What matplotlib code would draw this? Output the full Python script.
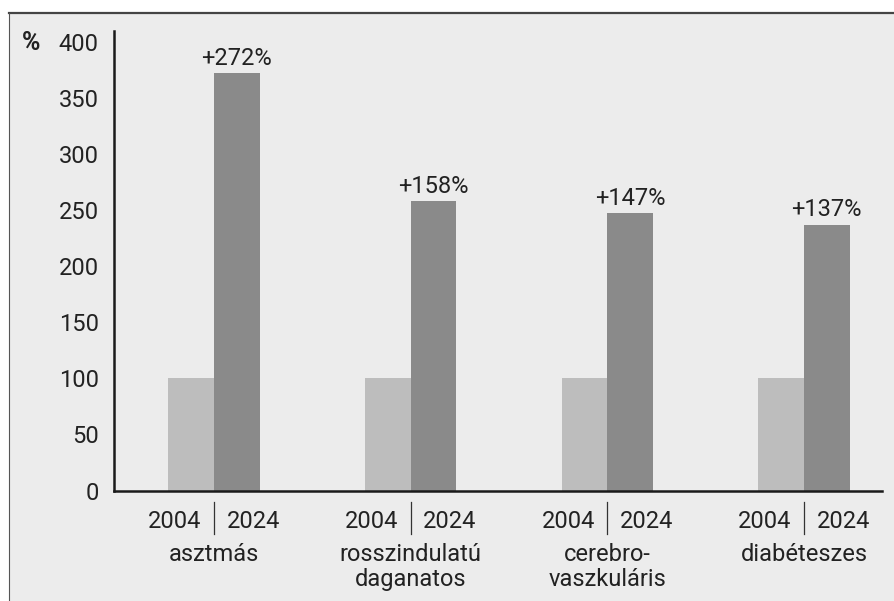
import matplotlib
matplotlib.use("Agg")
import matplotlib.pyplot as plt
from matplotlib.patches import Rectangle
from matplotlib.lines import Line2D
import matplotlib.transforms as mtransforms

categories = ["asztmás", "rosszindulatú\ndaganatos", "cerebro-\nvaszkuláris", "diabéteszes"]
years = ["2004", "2024"]
values_2004 = [100, 100, 100, 100]
values_2024 = [372, 258, 247, 237]
change_labels = ["+272%", "+158%", "+147%", "+137%"]
yticks = [0, 50, 100, 150, 200, 250, 300, 350, 400]

plt.rcParams['font.family'] = ['Roboto', 'DejaVu Sans']
FS = 17
TXT = '#222222'
BG = '#ececec'

W, H = 894, 601
fig = plt.figure(figsize=(W / 100, H / 100), dpi=100)
fig.patch.set_facecolor('white')

# background panel with frame
fig.patches.append(Rectangle((9 / W, 0), 1 - 9 / W, 1 - 13 / H, transform=fig.transFigure,
                             facecolor=BG, edgecolor='none', zorder=-10))
fig.lines.append(Line2D([9 / W, 1], [1 - 13 / H, 1 - 13 / H], transform=fig.transFigure,
                        color='#444444', linewidth=1.6))
fig.lines.append(Line2D([9 / W, 9 / W], [0, 1 - 13 / H], transform=fig.transFigure,
                        color='#555555', linewidth=0.8))

AX_H = 490.5 - 31
ax = fig.add_axes([114 / W, (H - 490.5) / H, (882 - 114) / W, AX_H / H])
ax.set_facecolor(BG)

x = list(range(len(categories)))
bw = 0.232
ax.bar([i - bw / 2 for i in x], values_2004, width=bw, color='#bdbdbd', zorder=2)
ax.bar([i + bw / 2 for i in x], values_2024, width=bw, color='#8a8a8a', zorder=2)

for i, (v, lab) in enumerate(zip(values_2024, change_labels)):
    ax.annotate(lab, (i + bw / 2, v), xytext=(0, 2.5), textcoords='offset points',
                ha='center', va='bottom', fontsize=FS, color=TXT)

ax.set_xlim(-0.508, 3.397)
ax.set_ylim(0, 409.5)
ax.set_yticks(yticks)
ax.set_yticklabels([str(t) for t in yticks], fontsize=FS, color=TXT)
ax.tick_params(axis='y', length=0, pad=11)
ax.set_xticks([])

for s in ['top', 'right']:
    ax.spines[s].set_visible(False)
for s in ['left', 'bottom']:
    ax.spines[s].set_linewidth(1.8)
    ax.spines[s].set_color('#1a1a1a')

trans = mtransforms.blended_transform_factory(ax.transData, ax.transAxes)
for i, cat in enumerate(categories):
    ax.annotate(years[0], (i, 0), xycoords=trans, xytext=(-9, -22.5), textcoords='offset points',
                ha='right', va='center', fontsize=FS, color=TXT)
    ax.annotate(years[1], (i, 0), xycoords=trans, xytext=(9, -22.5), textcoords='offset points',
                ha='left', va='center', fontsize=FS, color=TXT)
    ax.annotate(cat, (i, 0), xycoords=trans, xytext=(0, -38), textcoords='offset points',
                ha='center', va='top', fontsize=FS, color=TXT, linespacing=1.08)
    ax.add_line(Line2D([i, i], [-11.5 / AX_H, -43.5 / AX_H], transform=trans,
                       color='#333333', linewidth=0.9, clip_on=False))

fig.text(22 / W, 1 - 42.5 / H, '%', fontsize=FS + 1, fontweight='bold', color=TXT,
         ha='left', va='center')

fig.savefig('out.png', dpi=100, facecolor=fig.get_facecolor())
